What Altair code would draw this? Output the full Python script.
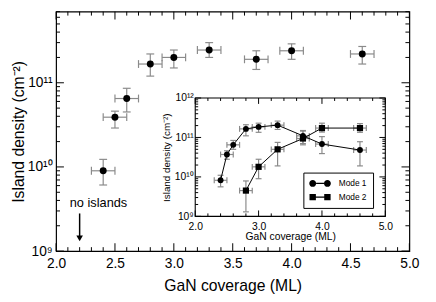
import altair as alt
import pandas as pd

# ---------------- main panel data ----------------
X_MAIN = [2.4, 2.5, 2.6, 2.8, 3.0, 3.3, 3.7, 4.0, 4.6]
Y_MAIN = [9.0e9, 3.9e10, 6.5e10, 1.67e11, 2.0e11, 2.45e11, 1.9e11, 2.4e11, 2.2e11]
Y_MAIN_LO = [6.1e9, 2.9e10, 4.5e10, 1.2e11, 1.5e11, 2.0e11, 1.44e11, 1.9e11, 1.67e11]
Y_MAIN_HI = [1.23e10, 4.6e10, 8.6e10, 2.2e11, 2.45e11, 3.0e11, 2.4e11, 2.9e11, 2.7e11]
X_ERR_MAIN = [0.1, 0.1, 0.1, 0.1, 0.1, 0.1, 0.1, 0.1, 0.1]

# ---------------- inset data ----------------
MODES = ["Mode 1", "Mode 2"]
X_M1 = [2.4, 2.5, 2.6, 2.8, 3.0, 3.3, 3.7, 4.0, 4.6]
Y_M1 = [8.2e9, 3.7e10, 6.5e10, 1.65e11, 1.85e11, 2.05e11, 1.1e11, 6.8e10, 4.8e10]
Y_M1_LO = [5.6e9, 2.8e10, 5.0e10, 1.1e11, 1.35e11, 1.6e11, 7.0e10, 3.9e10, 1.9e10]
Y_M1_HI = [1.1e10, 4.6e10, 8.4e10, 2.1e11, 2.3e11, 2.6e11, 1.5e11, 1.05e11, 7.8e10]
X_M2 = [2.8, 3.0, 3.3, 3.7, 4.0, 4.6]
Y_M2 = [4.5e9, 1.8e10, 5.0e10, 9.4e10, 1.73e11, 1.73e11]
Y_M2_LO = [1.3e9, 9.0e9, 1.9e10, 6.5e10, 1.37e11, 1.35e11]
Y_M2_HI = [7.9e9, 2.8e10, 7.5e10, 1.45e11, 2.3e11, 2.25e11]
X_ERR_IN = 0.1

# ---------------- annotation ----------------
NOTE_TEXT = ["no islands"]
NOTE_X = [2.36]
NOTE_Y = [3.7e9]
ARROW_X = [2.2]
ARROW_Y_START = [2.8e9]
ARROW_Y_END = [1.5e9]
ARROW_HEAD_Y = [1.42e9]

# ---------------- axes ----------------
X_MAIN_DOMAIN = [2.0, 5.0]
Y_MAIN_DOMAIN = [1e9, 7e11]
X_MAIN_LABELS = [2.0, 2.5, 3.0, 3.5, 4.0, 4.5, 5.0]
Y_MAIN_LABELS = [1e9, 1e10, 1e11]
X_MAIN_MINOR = [round(2.0 + 0.1 * i, 1) for i in range(31) if i % 5 != 0]
Y_MAIN_MINOR = [float(m) * 10.0 ** e for e in (9, 10, 11) for m in range(2, 10) if m * 10.0 ** e <= 7e11]

X_IN_DOMAIN = [2.0, 5.0]
Y_IN_DOMAIN = [1e9, 1e12]
X_IN_LABELS = [2.0, 3.0, 4.0, 5.0]
Y_IN_LABELS = [1e9, 1e10, 1e11, 1e12]
X_IN_MINOR = [round(2.0 + 0.2 * i, 1) for i in range(16) if i % 5 != 0]
Y_IN_MINOR = [float(m) * 10.0 ** e for e in (9, 10, 11) for m in range(2, 10)]

SUP_EXPR = "['10\u2079','10\u00b9\u2070','10\u00b9\u00b9','10\u00b9\u00b2'][round(log(datum.value)/LN10) - 9]"

FONT = "Liberation Sans"
ERR = "#8a8a8a"
W, H = 360, 244
IN_X_RANGE = [141.8, 335.5]
IN_Y_RANGE = [208.6, 88.0]

XS = alt.Scale(domain=X_MAIN_DOMAIN, nice=False, zero=False)
YS = alt.Scale(type="log", domain=Y_MAIN_DOMAIN, nice=False)
XI = alt.Scale(domain=X_IN_DOMAIN, nice=False, zero=False, range=IN_X_RANGE)
YI = alt.Scale(type="log", domain=Y_IN_DOMAIN, nice=False, range=IN_Y_RANGE)

AX_MAIN_X = alt.Axis(values=X_MAIN_LABELS, format=".1f", ticks=False, domain=False, grid=False,
                     labelFontSize=14, labelPadding=6, labelFlush=False, labelOverlap=False,
                     title="GaN coverage (ML)", titleFontSize=16, titlePadding=7)
AX_MAIN_Y = alt.Axis(values=Y_MAIN_LABELS, labelExpr=SUP_EXPR, ticks=False, domain=False, grid=False,
                     labelFontSize=14, labelPadding=4, labelFlush=False, labelOverlap=False,
                     title="Island density (cm\u207b\u00b2)", titleFontSize=16, titlePadding=1)
AX_IN_X = alt.Axis(values=X_IN_LABELS, format=".1f", ticks=False, domain=False, grid=False,
                   orient="bottom", offset=-(H - IN_Y_RANGE[0]),
                   labelFontSize=10.5, labelPadding=5, labelFlush=False, labelOverlap=False,
                   title="GaN coverage (ML)", titleFontSize=10.5, titlePadding=0)
AX_IN_Y = alt.Axis(values=Y_IN_LABELS, labelExpr=SUP_EXPR, ticks=False, domain=False, grid=False,
                   orient="left", offset=-IN_X_RANGE[0],
                   labelFontSize=10.5, labelPadding=2, labelFlush=False, labelOverlap=False,
                   title="Island density (cm\u207b\u00b2)", titleFontSize=10, titlePadding=3)


def X(f, sc, ax):
    return alt.X(f, scale=sc, axis=ax)


def Y(f, sc, ax):
    return alt.Y(f, scale=sc, axis=ax)


def edge_ticks(vals, xs, ys, axx, axy, side, length, xd, yd):
    df = pd.DataFrame({"v": vals})
    if side in ("bottom", "top"):
        edge = yd[0] if side == "bottom" else yd[1]
        off = -length if side == "bottom" else length
        return alt.Chart(df).mark_rule(color="black", strokeWidth=1, y2Offset=off).encode(
            x=X("v:Q", xs, axx),
            y=alt.YDatum(edge, type="quantitative", scale=ys, axis=axy),
            y2=alt.Y2Datum(edge))
    edge = xd[0] if side == "left" else xd[1]
    off = length if side == "left" else -length
    return alt.Chart(df).mark_rule(color="black", strokeWidth=1, x2Offset=off).encode(
        y=Y("v:Q", ys, axy),
        x=alt.XDatum(edge, type="quantitative", scale=xs, axis=axx),
        x2=alt.X2Datum(edge))


def all_ticks(xmaj, xmin, ymaj, ymin, xs, ys, axx, axy, xd, yd, lmaj, lmin):
    out = []
    for side in ("bottom", "top"):
        out.append(edge_ticks(xmaj, xs, ys, axx, axy, side, lmaj, xd, yd))
        out.append(edge_ticks(xmin, xs, ys, axx, axy, side, lmin, xd, yd))
    for side in ("left", "right"):
        out.append(edge_ticks(ymaj, xs, ys, axx, axy, side, lmaj, xd, yd))
        out.append(edge_ticks(ymin, xs, ys, axx, axy, side, lmin, xd, yd))
    return out


def error_layers(df, xs, ys, axx, axy, cap):
    base = alt.Chart(df)
    vert = base.mark_rule(color=ERR, strokeWidth=1.2).encode(
        x=X("x:Q", xs, axx), y=Y("lo:Q", ys, axy), y2="hi:Q")
    horiz = base.mark_rule(color=ERR, strokeWidth=1.2).encode(
        y=Y("y:Q", ys, axy), x=X("xlo:Q", xs, axx), x2="xhi:Q")
    ycaps = base.transform_fold(["lo", "hi"], as_=["k", "val"]).mark_tick(
        orient="horizontal", color=ERR, size=cap, thickness=1.2, opacity=1).encode(
        x=X("x:Q", xs, axx), y=Y("val:Q", ys, axy))
    xcaps = base.transform_fold(["xlo", "xhi"], as_=["k", "val"]).mark_tick(
        orient="vertical", color=ERR, size=cap, thickness=1.2, opacity=1).encode(
        x=X("val:Q", xs, axx), y=Y("y:Q", ys, axy))
    return [vert, horiz, ycaps, xcaps]


# ---------------- main panel ----------------
main_df = pd.DataFrame({
    "x": X_MAIN, "y": Y_MAIN, "lo": Y_MAIN_LO, "hi": Y_MAIN_HI,
    "xlo": [a - b for a, b in zip(X_MAIN, X_ERR_MAIN)],
    "xhi": [a + b for a, b in zip(X_MAIN, X_ERR_MAIN)],
})

main_points = alt.Chart(main_df).mark_circle(size=50, color="black", opacity=1).encode(
    x=X("x:Q", XS, AX_MAIN_X), y=Y("y:Q", YS, AX_MAIN_Y))

note = alt.Chart(pd.DataFrame({"t": NOTE_TEXT, "x": NOTE_X, "y": NOTE_Y})).mark_text(
    fontSize=13, color="black", align="center", baseline="middle").encode(
    x=X("x:Q", XS, AX_MAIN_X), y=Y("y:Q", YS, AX_MAIN_Y), text="t:N")
arrow_df = pd.DataFrame({"x": ARROW_X, "y0": ARROW_Y_START, "y1": ARROW_Y_END, "yh": ARROW_HEAD_Y})
arrow_line = alt.Chart(arrow_df).mark_rule(color="black", strokeWidth=1.5).encode(
    x=X("x:Q", XS, AX_MAIN_X), y=Y("y0:Q", YS, AX_MAIN_Y), y2="y1:Q")
arrow_head = alt.Chart(arrow_df).mark_point(shape="triangle-down", filled=True, size=45,
                                            color="black", opacity=1).encode(
    x=X("x:Q", XS, AX_MAIN_X), y=Y("yh:Q", YS, AX_MAIN_Y))

main = alt.layer(
    *all_ticks(X_MAIN_LABELS, X_MAIN_MINOR, Y_MAIN_LABELS, Y_MAIN_MINOR, XS, YS, AX_MAIN_X, AX_MAIN_Y,
               X_MAIN_DOMAIN, Y_MAIN_DOMAIN, 8, 4),
    *error_layers(main_df, XS, YS, AX_MAIN_X, AX_MAIN_Y, 8),
    note, arrow_line, arrow_head,
    main_points,
)

# ---------------- inset ----------------
m1 = pd.DataFrame({"x": X_M1, "y": Y_M1, "lo": Y_M1_LO, "hi": Y_M1_HI,
                   "xlo": [a - X_ERR_IN for a in X_M1], "xhi": [a + X_ERR_IN for a in X_M1]})
m2 = pd.DataFrame({"x": X_M2, "y": Y_M2, "lo": Y_M2_LO, "hi": Y_M2_HI,
                   "xlo": [a - X_ERR_IN for a in X_M2], "xhi": [a + X_ERR_IN for a in X_M2]})

frame = alt.Chart(pd.DataFrame({"k": [0]})).mark_rect(fillOpacity=0, stroke="black", strokeWidth=1.1).encode(
    x=alt.XDatum(X_IN_DOMAIN[0], type="quantitative", scale=XI, axis=AX_IN_X),
    x2=alt.X2Datum(X_IN_DOMAIN[1]),
    y=alt.YDatum(Y_IN_DOMAIN[0], type="quantitative", scale=YI, axis=AX_IN_Y),
    y2=alt.Y2Datum(Y_IN_DOMAIN[1]))

line1 = alt.Chart(m1).mark_line(color="black", strokeWidth=1).encode(
    x=X("x:Q", XI, AX_IN_X), y=Y("y:Q", YI, AX_IN_Y))
line2 = alt.Chart(m2).mark_line(color="black", strokeWidth=1).encode(
    x=X("x:Q", XI, AX_IN_X), y=Y("y:Q", YI, AX_IN_Y))
pts1 = alt.Chart(m1).mark_point(shape="circle", filled=True, size=36, color="black", opacity=1).encode(
    x=X("x:Q", XI, AX_IN_X), y=Y("y:Q", YI, AX_IN_Y))
pts2 = alt.Chart(m2).mark_point(shape="square", filled=True, size=40, color="black", opacity=1).encode(
    x=X("x:Q", XI, AX_IN_X), y=Y("y:Q", YI, AX_IN_Y))

PATH_M1 = ("M-1,0 A0.7,0.7 0 1,0 0.4,0 A0.7,0.7 0 1,0 -1,0 Z "
           "M2,0 A0.7,0.7 0 1,0 3.4,0 A0.7,0.7 0 1,0 2,0 Z "
           "M0.4,-0.12 L2,-0.12 L2,0.12 L0.4,0.12 Z")
PATH_M2 = ("M-0.95,-0.65 L0.35,-0.65 L0.35,0.65 L-0.95,0.65 Z "
           "M2.05,-0.65 L3.35,-0.65 L3.35,0.65 L2.05,0.65 Z "
           "M0.35,-0.12 L2.05,-0.12 L2.05,0.12 L0.35,0.12 Z")

legend_layer = alt.Chart(pd.DataFrame({"mode": MODES})).mark_point(
    filled=True, color="black", opacity=0).encode(
    shape=alt.Shape("mode:N", scale=alt.Scale(domain=MODES, range=[PATH_M1, PATH_M2]),
                    legend=alt.Legend(title=None, orient="none", legendX=252, legendY=164,
                                      strokeColor="black", padding=6, rowPadding=4,
                                      symbolSize=100, symbolOpacity=1, symbolFillColor="black",
                                      symbolStrokeWidth=0, labelOffset=20, labelFontSize=8.5,
                                      labelFont=FONT, labelColor="black")))

inset = alt.layer(
    frame,
    *all_ticks(X_IN_LABELS, X_IN_MINOR, Y_IN_LABELS, Y_IN_MINOR, XI, YI, AX_IN_X, AX_IN_Y,
               X_IN_DOMAIN, Y_IN_DOMAIN, 6, 3),
    *error_layers(m1, XI, YI, AX_IN_X, AX_IN_Y, 6),
    *error_layers(m2, XI, YI, AX_IN_X, AX_IN_Y, 6),
    line1, line2, pts1, pts2, legend_layer,
)

chart = alt.layer(main, inset).resolve_scale(x="independent", y="independent").properties(
    width=W, height=H,
    padding={"left": 49, "top": 1, "right": 19, "bottom": 41},
    autosize=alt.AutoSizeParams(type="none"),
).configure_view(stroke="black", strokeWidth=1.2).configure_axis(
    labelFont=FONT, titleFont=FONT, labelColor="black", titleColor="black", titleFontWeight="normal"
).configure_text(font=FONT).configure_legend(labelFont=FONT)

chart.save("out.html", embed_options={"renderer": "svg", "actions": False})
